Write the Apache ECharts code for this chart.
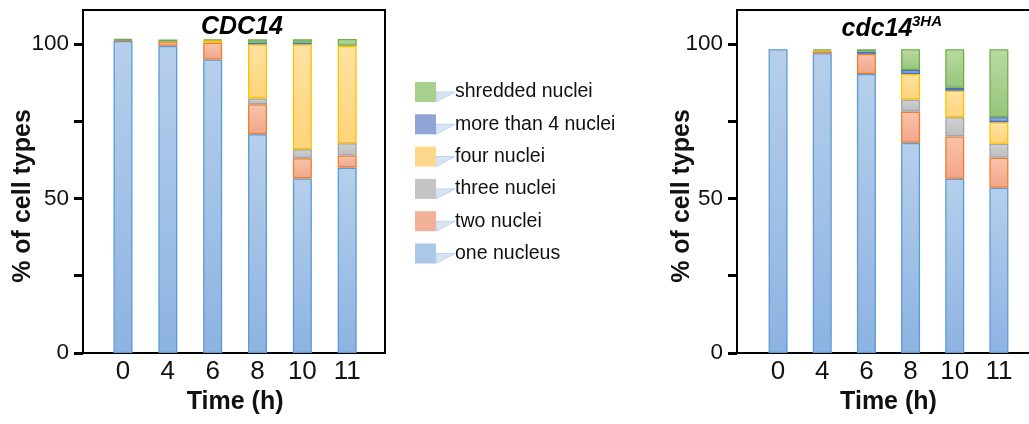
<!DOCTYPE html>
<html>
<head>
<meta charset="utf-8">
<script src="https://cdn.jsdelivr.net/npm/echarts@6/dist/echarts.min.js"></script>
<style>
html,body{margin:0;padding:0;background:#fff;}
#c{width:1029px;height:424px;}
</style>
</head>
<body>
<div id="c"></div>
<script>
// ---------- data ----------
const categories = ['0', '4', '6', '8', '10', '11'];
const seriesNames = ['one nucleus', 'two nuclei', 'three nuclei', 'four nuclei', 'more than 4 nuclei', 'shredded nuclei'];
const yTicks = [0, 25, 50, 75, 100];
const yLabels = [0, 50, 100];

// CDC14 (left panel), % of cell types
const cdcOne      = [101.0, 99.4, 95.0, 70.8, 56.5, 60.0];
const cdcTwo      = [0.3, 1.4, 5.4, 9.7, 6.5, 3.9];
const cdcThree    = [0, 0, 0, 1.9, 2.9, 4.0];
const cdcFour     = [0, 0, 0.8, 17.5, 34.0, 31.5];
const cdcMore     = [0, 0, 0, 0.5, 0.5, 0];
const cdcShredded = [0.4, 0.65, 0.3, 1.1, 1.1, 2.2];

// cdc14-3HA (right panel)
const haOne      = [98.3, 97.0, 90.3, 68.0, 56.4, 53.5];
const haTwo      = [0, 0.65, 6.5, 10.1, 13.7, 9.7];
const haThree    = [0, 0, 0, 3.9, 6.2, 4.5];
const haFour     = [0, 0.3, 0, 8.3, 8.6, 7.0];
const haMore     = [0, 0, 0.75, 1.3, 0.9, 1.6];
const haShredded = [0, 0.3, 0.75, 6.7, 12.5, 22.0];

// ---------- styles ----------
const FONT = "'Liberation Sans', Arial, sans-serif";
const styles = [
  {top: '#b6cfeb', bottom: '#8db3e2', border: '#5b9bd5', legend: '#adc7e8'},
  {top: '#f8c4ad', bottom: '#f2a586', border: '#ed7d31', legend: '#f4b19a'},
  {top: '#d2d2d2', bottom: '#bcbcbc', border: '#a5a5a5', legend: '#c4c4c4'},
  {top: '#ffe2a2', bottom: '#ffd47a', border: '#ffc000', legend: '#ffd78a'},
  {top: '#a6b7e1', bottom: '#8198d0', border: '#4472c4', legend: '#8fa4d7'},
  {top: '#b9daa3', bottom: '#97c57c', border: '#70ad47', legend: '#a9d18e'}
];

const leftData = [cdcOne, cdcTwo, cdcThree, cdcFour, cdcMore, cdcShredded];
const rightData = [haOne, haTwo, haThree, haFour, haMore, haShredded];

function clean(arr) { return arr.map(v => v === 0 ? '-' : v); }

function makeSeries(dataSets, xi, yi, stack) {
  return dataSets.map((d, i) => ({
    name: seriesNames[i],
    type: 'bar',
    stack: stack,
    xAxisIndex: xi,
    yAxisIndex: yi,
    barWidth: 19,
    data: clean(d),
    itemStyle: {
      color: new echarts.graphic.LinearGradient(0, 0, 0, 1, [
        {offset: 0, color: styles[i].top},
        {offset: 1, color: styles[i].bottom}
      ]),
      borderColor: styles[i].border,
      borderWidth: 1.3
    },
    emphasis: {disabled: true},
    animation: false
  }));
}

const Y_MAX = 111;
const TOP = 10, HEIGHT = 343;

function frameY(gridIndex, gap) {
  return {
    gridIndex: gridIndex, type: 'value', min: 0, max: Y_MAX,
    name: '% of cell types', nameLocation: 'middle', nameGap: gap, nameRotate: 90,
    nameMoveOverlap: false,
    nameTextStyle: {fontFamily: FONT, fontSize: 25, fontWeight: 'bold', color: '#111', padding: [0, 29, 0, 0]},
    axisLine: {show: true, lineStyle: {color: '#000', width: 2}},
    axisTick: {show: true, length: 9, customValues: yTicks, lineStyle: {color: '#000', width: 3}},
    axisLabel: {show: true, margin: 14, customValues: yLabels, fontFamily: FONT, fontSize: 22.5, color: '#111'},
    splitLine: {show: false}
  };
}
function hiddenY(gridIndex) {
  return {gridIndex: gridIndex, type: 'value', min: 0, max: Y_MAX, show: false, splitLine: {show: false}};
}
function catX(gridIndex) {
  return {
    gridIndex: gridIndex, type: 'category', data: categories,
    name: 'Time (h)', nameLocation: 'middle', nameGap: 37,
    nameMoveOverlap: false,
    nameTextStyle: {fontFamily: FONT, fontSize: 25, fontWeight: 'bold', color: '#111'},
    axisLine: {show: false}, axisTick: {show: false},
    axisLabel: {margin: 6, fontFamily: FONT, fontSize: 26, color: '#111'}
  };
}
function hiddenX(gridIndex) {
  return {gridIndex: gridIndex, type: 'value', show: false, min: 0, max: 1, splitLine: {show: false}};
}

// legend decorations (callout wedges)
const LEG_LEFT = 415, LEG_TOP = 82, LEG_ITEM_W = 21, LEG_ITEM_H = 20, LEG_GAP = 12.3;
const legendOrder = seriesNames.slice().reverse();
const wedges = legendOrder.map((n, i) => {
  const y0 = LEG_TOP + i * (LEG_ITEM_H + LEG_GAP) + LEG_ITEM_H / 2;
  const x0 = LEG_LEFT + LEG_ITEM_W;
  return {
    type: 'polygon', silent: true, z: 1,
    shape: {points: [[x0, y0], [x0 + 19, y0], [x0, y0 + 10]]},
    style: {fill: '#d6e4f3', stroke: '#c3d6ee', lineWidth: 1}
  };
});

const option = {
  backgroundColor: '#fff',
  animation: false,
  title: [
    {text: 'CDC14', left: 237, top: 10, textAlign: 'center',
     textStyle: {fontFamily: FONT, fontSize: 25, fontWeight: 'bold', fontStyle: 'italic', color: '#000'}},
    {text: 'cdc14', left: 872, top: 12, textAlign: 'center',
     textStyle: {fontFamily: FONT, fontSize: 25, fontWeight: 'bold', fontStyle: 'italic', color: '#000'}},
    {text: '3HA', left: 907, top: 9,
     textStyle: {fontFamily: FONT, fontSize: 15, fontWeight: 'bold', fontStyle: 'italic', color: '#000'}}
  ],
  legend: {
    orient: 'vertical', left: LEG_LEFT, top: LEG_TOP, padding: 0,
    itemWidth: LEG_ITEM_W, itemHeight: LEG_ITEM_H, itemGap: LEG_GAP,
    icon: 'rect',
    data: legendOrder.map(n => ({name: n, itemStyle: {color: styles[seriesNames.indexOf(n)].legend, borderWidth: 0}})),
    textStyle: {fontFamily: FONT, fontSize: 19.5, color: '#111', padding: [0, 0, 0, 14]},
    selectedMode: false
  },
  grid: [
    // left frame
    {left: 83, top: TOP, width: 302, height: HEIGHT, show: true, borderColor: '#000', borderWidth: 2, backgroundColor: 'transparent', outerBoundsMode: 'none'},
    // left bars
    {left: 100.6, top: TOP, width: 269, height: HEIGHT, outerBoundsMode: 'none'},
    // right frame
    {left: 737, top: TOP, width: 330, height: HEIGHT, show: true, borderColor: '#000', borderWidth: 2, backgroundColor: 'transparent', outerBoundsMode: 'none'},
    // right bars
    {left: 756, top: TOP, width: 265, height: HEIGHT, outerBoundsMode: 'none'}
  ],
  xAxis: [hiddenX(0), catX(1), hiddenX(2), catX(3)],
  yAxis: [frameY(0, 47), hiddenY(1), frameY(2, 42), hiddenY(3)],
  series: [].concat(makeSeries(leftData, 1, 1, 'L'), makeSeries(rightData, 3, 3, 'R')),
  graphic: wedges
};

const chart = echarts.init(document.getElementById('c'), null, {renderer: 'canvas'});
chart.setOption(option);
</script>
</body>
</html>
